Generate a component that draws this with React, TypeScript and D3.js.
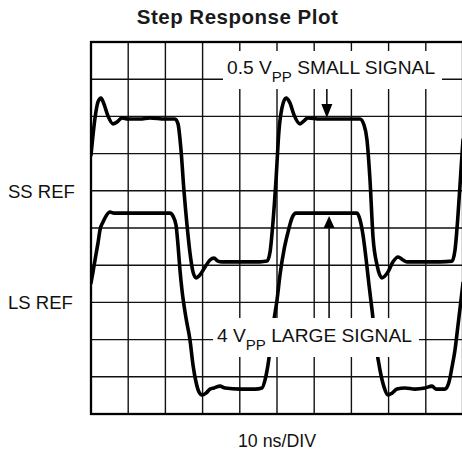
import React from "react";
import * as d3 from "d3";

// time in ns (10 ns/div), level in graticule divisions (0 = bottom, 10 = top)
const ssTime = [0, 1.08, 1.88, 2.69, 3.49, 4.57, 5.91, 6.99, 8.33, 9.95, 13.17, 15.86, 19.89, 22.58, 23.39, 24.19, 25.0, 25.81, 26.61, 27.42, 28.23, 29.3, 30.65, 31.99, 33.06, 34.14, 35.22, 40.05, 45.43, 47.31, 48.12, 48.92, 49.73, 50.54, 51.34, 52.42, 53.49, 54.57, 56.18, 57.26, 58.33, 61.56, 66.94, 72.31, 73.39, 74.19, 75.0, 75.81, 76.88, 78.23, 79.84, 81.18, 82.53, 83.87, 84.95, 88.44, 93.82, 97.04, 97.85, 98.66, 99.46, 100];
const ssLevel = [6.96, 7.96, 8.39, 8.49, 8.33, 8.01, 7.8, 7.85, 7.96, 7.93, 7.93, 7.96, 7.93, 7.93, 7.8, 7.1, 5.99, 5.08, 4.33, 3.82, 3.66, 3.74, 3.95, 4.14, 4.19, 4.11, 4.09, 4.09, 4.09, 4.11, 4.35, 5.16, 6.29, 7.63, 8.23, 8.49, 8.36, 8.04, 7.8, 7.88, 7.96, 7.93, 7.93, 7.93, 7.77, 7.37, 6.29, 4.76, 4.01, 3.66, 3.82, 4.09, 4.22, 4.14, 4.09, 4.09, 4.09, 4.11, 4.41, 5.35, 6.56, 7.37];

const lsTime = [0, 0.54, 1.08, 1.88, 2.42, 3.23, 4.03, 5.11, 6.18, 10.48, 15.86, 21.24, 22.04, 22.85, 23.39, 23.92, 24.46, 25.54, 26.61, 27.42, 28.23, 29.03, 29.84, 30.91, 31.99, 33.06, 34.68, 36.02, 40.05, 44.09, 45.97, 46.77, 47.58, 48.39, 49.19, 50.0, 50.81, 51.88, 52.96, 54.03, 55.11, 56.18, 61.56, 66.94, 71.51, 72.31, 73.12, 73.92, 74.73, 75.54, 76.61, 77.69, 78.76, 79.84, 80.91, 82.26, 84.41, 87.1, 89.78, 91.67, 92.74, 95.16, 96.24, 97.04, 97.85, 98.66, 99.46, 100];
const lsLevel = [3.52, 3.82, 4.14, 4.6, 4.95, 5.16, 5.32, 5.43, 5.4, 5.4, 5.4, 5.4, 5.32, 5.08, 4.54, 3.87, 3.33, 2.58, 1.99, 1.32, 0.86, 0.59, 0.51, 0.56, 0.67, 0.7, 0.75, 0.7, 0.67, 0.67, 0.7, 0.91, 1.32, 1.91, 2.53, 3.06, 3.74, 4.41, 4.89, 5.27, 5.4, 5.4, 5.4, 5.4, 5.4, 5.22, 4.81, 4.19, 3.47, 2.8, 1.85, 1.18, 0.73, 0.51, 0.56, 0.67, 0.7, 0.67, 0.7, 0.75, 0.67, 0.67, 0.86, 1.26, 1.72, 2.39, 3.06, 3.52];

const gridDivs = d3.range(0, 11);
const refLabels = ["SS REF", "LS REF"];
const refLevels = [6, 3];
const title = "Step Response Plot";
const xLabel = "10 ns/DIV";

const W = 462;
const H = 456;
const left = 91;
const top = 42;
const size = 372;

export default function App() {
  const x = d3.scaleLinear().domain([0, 100]).range([left, left + size]);
  const y = d3.scaleLinear().domain([0, 10]).range([top + size, top]);
  const line = d3
    .line<[number, number]>()
    .x((d) => x(d[0]))
    .y((d) => y(d[1]))
    .curve(d3.curveMonotoneX);
  const ss = line(ssTime.map((t, i) => [t, ssLevel[i]]) as [number, number][]) || "";
  const ls = line(lsTime.map((t, i) => [t, lsLevel[i]]) as [number, number][]) || "";

  const font = "'Liberation Sans', Arial, Helvetica, sans-serif";
  const a1x = x(63.4);
  const a1tip = y(7.93) - 1;
  const a2x = x(64);
  const a2tip = y(5.4) + 3;

  return (
    <svg
      width={W}
      height={H}
      style={{ position: "absolute", left: 0, top: 0, background: "#fff" }}
      fontFamily={font}
    >
      <defs>
        <clipPath id="plot">
          <rect x={left} y={top} width={size} height={size} />
        </clipPath>
      </defs>
      <rect x={0} y={0} width={W} height={H} fill="#fff" />
      <text x={237.5} y={24} textAnchor="middle" fontWeight="bold" fontSize={20.5} letterSpacing={0.5} fill="#1a1a1a">
        {title}
      </text>
      {gridDivs.slice(1, 10).map((d) => (
        <g key={d}>
          <line x1={x(d * 10)} x2={x(d * 10)} y1={top} y2={top + size} stroke="#111" strokeWidth={1.4} />
          <line x1={left} x2={left + size} y1={y(d)} y2={y(d)} stroke="#111" strokeWidth={1.4} />
        </g>
      ))}
      <rect x={left} y={top} width={size} height={size} fill="none" stroke="#000" strokeWidth={2.3} />
      <g clipPath="url(#plot)" fill="none" stroke="#000" strokeWidth={3.6} strokeLinejoin="round" strokeLinecap="round">
        <path d={ss} />
        <path d={ls} />
      </g>
      {/* annotation boxes */}
      <rect x={223} y={51} width={219} height={38} fill="#fff" />
      <rect x={213} y={318} width={206} height={39} fill="#fff" />
      <text x={227} y={73.5} fontSize={19.2} fill="#111">
        0.5 V<tspan dy={8} fontSize={15}>PP</tspan>
        <tspan dy={-8}> SMALL SIGNAL</tspan>
      </text>
      <text x={217} y={341.5} fontSize={19.2} fill="#111">
        4 V<tspan dy={8} fontSize={15}>PP</tspan>
        <tspan dy={-8}> LARGE SIGNAL</tspan>
      </text>
      {/* arrows */}
      <line x1={a1x} x2={a1x} y1={89} y2={a1tip - 10} stroke="#000" strokeWidth={1.5} />
      <path d={`M${a1x - 5.5},${a1tip - 14} L${a1x + 5.5},${a1tip - 14} L${a1x},${a1tip} Z`} fill="#000" />
      <line x1={a2x} x2={a2x} y1={318} y2={a2tip + 10} stroke="#000" strokeWidth={1.5} />
      <path d={`M${a2x - 5.5},${a2tip + 12} L${a2x + 5.5},${a2tip + 12} L${a2x},${a2tip} Z`} fill="#000" />
      {refLabels.map((t, i) => (
        <text key={t} x={8} y={y(refLevels[i]) + 7} fontSize={18.5} fill="#111">
          {t}
        </text>
      ))}
      <text x={x(50)} y={447} textAnchor="middle" fontSize={17.8} fill="#111">
        {xLabel}
      </text>
    </svg>
  );
}
